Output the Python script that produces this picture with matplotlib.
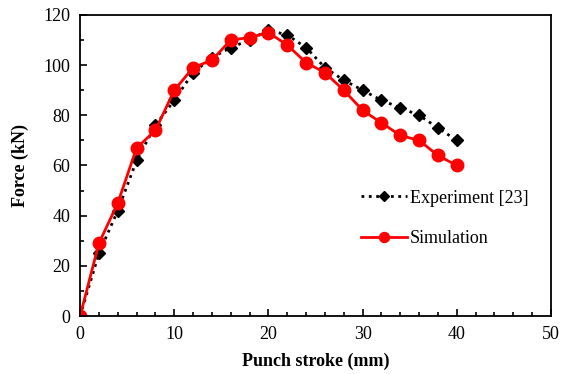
import numpy as np
import matplotlib.pyplot as plt
from matplotlib.ticker import MultipleLocator

# Punch stroke (mm) and force (kN)
stroke = [0, 2, 4, 6, 8, 10, 12, 14, 16, 18, 20, 22, 24, 26, 28, 30, 32, 34, 36, 38, 40]
experiment = [0, 25, 42, 62, 76, 86, 97, 103, 107, 110, 114, 112, 107, 99, 94, 90, 86, 83, 80, 75, 70]
simulation = [0, 29, 45, 67, 74, 90, 99, 102, 110, 111, 113, 108, 101, 97, 90, 82, 77, 72, 70, 64, 60]

plt.rcParams['font.family'] = ['Liberation Serif', 'DejaVu Serif']

fig = plt.figure(figsize=(5.68, 3.74), dpi=100)
ax = fig.add_axes([0.141, 0.155, 0.829, 0.805])

ax.plot(stroke, experiment, color='black', linestyle=':', linewidth=2,
        marker='D', markersize=6, label='Experiment [23]')
ax.plot(stroke, simulation, color='red', linestyle='-', linewidth=2,
        marker='o', markersize=9, label='Simulation')

ax.set_xlim(0, 50)
ax.set_ylim(0, 120)
ax.xaxis.set_major_locator(MultipleLocator(10))
ax.xaxis.set_minor_locator(MultipleLocator(2))
ax.yaxis.set_major_locator(MultipleLocator(20))
ax.yaxis.set_minor_locator(MultipleLocator(10))
ax.tick_params(which='both', direction='in', labelsize=13, width=1.2)
ax.tick_params(which='major', length=5, pad=7)
ax.tick_params(which='minor', length=3)
for s in ax.spines.values():
    s.set_linewidth(1.3)

ax.set_xlabel('Punch stroke (mm)', fontsize=13, fontweight='bold', labelpad=7)
ax.set_ylabel('Force (kN)', fontsize=13, fontweight='bold', labelpad=10)

ax.legend(loc='upper left', bbox_to_anchor=(0.563, 0.474), frameon=False,
          fontsize=13, handlelength=2.5, labelspacing=1.3, handletextpad=0.2,
          markerscale=0.8)

plt.savefig('out.png')
plt.close()
